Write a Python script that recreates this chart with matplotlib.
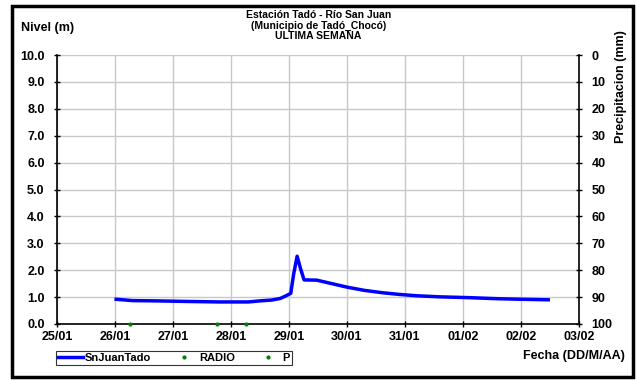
import matplotlib.pyplot as plt
from matplotlib.patches import Rectangle

plt.rcParams['font.family'] = ['Liberation Sans', 'DejaVu Sans']
plt.rcParams['font.weight'] = 'bold'

# days counted from 25/01 00:00
day_labels = ['25/01', '26/01', '27/01', '28/01', '29/01',
              '30/01', '31/01', '01/02', '02/02', '03/02']

nivel_t = [1.02, 1.3, 1.7, 2.2, 2.8, 3.3, 3.5, 3.7, 3.85, 3.95, 4.03,
           4.08, 4.14, 4.2, 4.26, 4.48, 4.7, 5.0, 5.3, 5.62, 5.9,
           6.2, 6.6, 7.1, 7.6, 8.0, 8.47]
nivel_v = [0.92, 0.87, 0.86, 0.84, 0.82, 0.82, 0.86, 0.89, 0.95, 1.05, 1.14,
           1.85, 2.52, 2.05, 1.64, 1.63, 1.52, 1.37, 1.25, 1.16, 1.10,
           1.05, 1.01, 0.98, 0.94, 0.92, 0.90]

radio_t = [1.26, 2.76, 3.25]
radio_v = [0.0, 0.0, 0.0]
p_t = []
p_v = []

fig = plt.figure(figsize=(6.37, 3.80), dpi=100)
ax = fig.add_axes([57 / 637, 1 - 324 / 380, (579 - 57) / 637, (324 - 55) / 380])

ax.plot(nivel_t, nivel_v, color='#0000ff', lw=2.5, label='SnJuanTado', zorder=3)
ax.plot(radio_t, radio_v, ls='none', marker='o', ms=2, color='#008000',
        label='RADIO', clip_on=False, zorder=4)
ax.plot(p_t, p_v, ls='none', marker='o', ms=2, color='#008000', label='P')

ax.set_xlim(0, 9)
ax.set_ylim(0, 10)
ax.set_xticks(range(len(day_labels)))
ax.set_xticklabels(day_labels)
ax.set_yticks(range(11))
ax.set_yticklabels(['{:.1f}'.format(v) for v in range(11)])
ax.grid(True, color='#c8c8c8', lw=1)
ax.set_axisbelow(True)
for s in ['top', 'right']:
    ax.spines[s].set_visible(False)
for s in ['left', 'bottom']:
    ax.spines[s].set_linewidth(1.2)
ax.tick_params(labelsize=9, length=4, width=1, direction='inout', pad=3)
ax.tick_params(axis='y', pad=7)

ax2 = ax.twinx()
ax2.set_ylim(100, 0)
ax2.set_yticks(range(0, 101, 10))
ax2.tick_params(labelsize=9, length=4, width=1, direction='inout', pad=7)
for s in ['top', 'left', 'bottom']:
    ax2.spines[s].set_visible(False)
ax2.spines['right'].set_linewidth(1.2)

fig.text(0.5, 1 - 10 / 380, 'Estación Tadó - Río San Juan\n(Municipio de Tadó_Chocó)\nULTIMA SEMANA',
         ha='center', va='top', fontsize=7.5, fontweight='bold', linespacing=1.05)
fig.text(21 / 637, 1 - 28 / 380, 'Nivel (m)', ha='left', va='center',
         fontsize=9, fontweight='bold')
fig.text(625 / 637, 1 - 356 / 380, 'Fecha (DD/M/AA)', ha='right', va='center',
         fontsize=9, fontweight='bold')
fig.text(621 / 637, 1 - 87 / 380, 'Precipitacion (mm)', ha='center', va='center',
         rotation=90, fontsize=9, fontweight='bold')

leg = fig.legend(loc='center', bbox_to_anchor=(174 / 637, 1 - 358 / 380),
                 ncol=3, fontsize=8, frameon=True, fancybox=False,
                 edgecolor='black', borderpad=0.15, handlelength=2.2,
                 columnspacing=1.9, handletextpad=0.2, markerscale=1)
leg.get_frame().set_linewidth(0.8)

fig.patches.append(Rectangle((11.5 / 637, 3.5 / 380), 621 / 637, 371 / 380,
                             transform=fig.transFigure, fill=False,
                             edgecolor='black', lw=2.5))

fig.savefig('out.png', dpi=100)
